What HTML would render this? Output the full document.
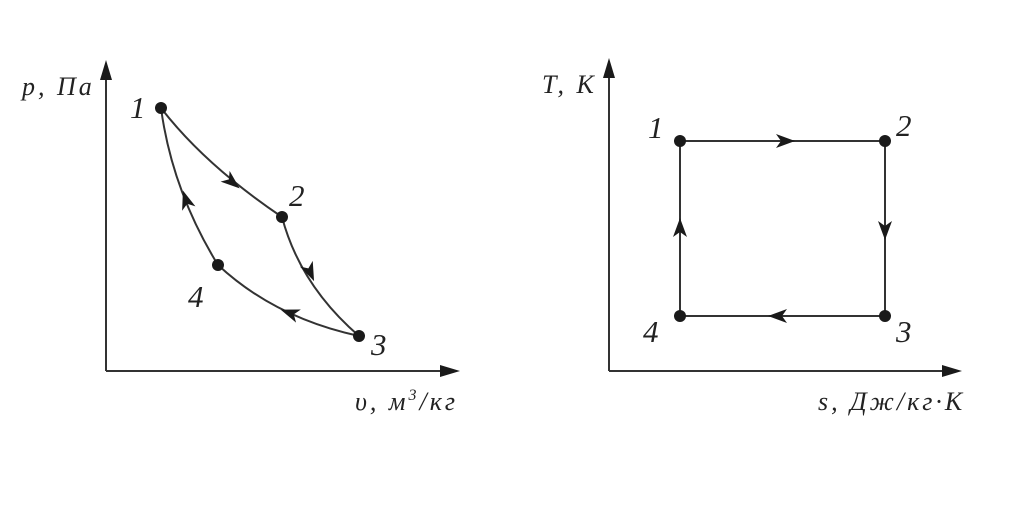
<!DOCTYPE html>
<html><head><meta charset="utf-8"><style>
html,body{margin:0;padding:0;background:#fff;}
svg text{font-family:"Liberation Serif",serif;font-style:italic;fill:#222;}
</style></head><body>
<svg width="1016" height="500" viewBox="0 0 1016 500" xmlns="http://www.w3.org/2000/svg">
<defs>
<polygon id="ah" points="10,0 -9,-7 -4,0 -9,7" fill="#1a1a1a"/>
</defs>
<g stroke="#333" stroke-width="2" fill="none">
<line x1="106" y1="74" x2="106" y2="371"/>
<line x1="106" y1="371" x2="446" y2="371"/>
<line x1="609" y1="72" x2="609" y2="371"/>
<line x1="609" y1="371" x2="948" y2="371"/>
<path d="M161,108 Q205,165 282,217"/>
<path d="M282,217 Q300,285 359,336"/>
<path d="M359,336 Q275,318 218,265"/>
<path d="M218,265 Q172,190 161,108"/>
<rect x="680" y="141" width="205" height="175"/>
</g>
<g fill="#1a1a1a">
<polygon points="106,60 100,80 112,80"/>
<polygon points="460,371 440,365 440,377"/>
<polygon points="609,58 603,78 615,78"/>
<polygon points="962,371 942,365 942,377"/>
<circle cx="161" cy="108" r="6"/>
<circle cx="282" cy="217" r="6"/>
<circle cx="359" cy="336" r="6"/>
<circle cx="218" cy="265" r="6"/>
<circle cx="680" cy="141" r="6"/>
<circle cx="885" cy="141" r="6"/>
<circle cx="885" cy="316" r="6"/>
<circle cx="680" cy="316" r="6"/>
</g>
<use href="#ah" transform="translate(232,182) rotate(40)"/>
<use href="#ah" transform="translate(310,272) rotate(66)"/>
<use href="#ah" transform="translate(290,313) rotate(200)"/>
<use href="#ah" transform="translate(186,200) rotate(252)"/>
<use href="#ah" transform="translate(785,141) rotate(0)"/>
<use href="#ah" transform="translate(885,230) rotate(90)"/>
<use href="#ah" transform="translate(778,316) rotate(180)"/>
<use href="#ah" transform="translate(680,228) rotate(270)"/>
<g font-size="31">
<text x="130" y="118">1</text>
<text x="289" y="206">2</text>
<text x="371" y="355">3</text>
<text x="188" y="307">4</text>
<text x="648" y="138">1</text>
<text x="896" y="136">2</text>
<text x="896" y="342">3</text>
<text x="643" y="342">4</text>
</g>
<g font-size="26" letter-spacing="3">
<text x="22" y="95">p, Па</text>
<text x="355" y="410">υ, м<tspan font-size="16" dy="-10">3</tspan><tspan dy="10">/кг</tspan></text>
<text x="542" y="93">T, K</text>
<text x="818" y="410">s, Дж/кг·К</text>
</g>
</svg>
</body></html>
